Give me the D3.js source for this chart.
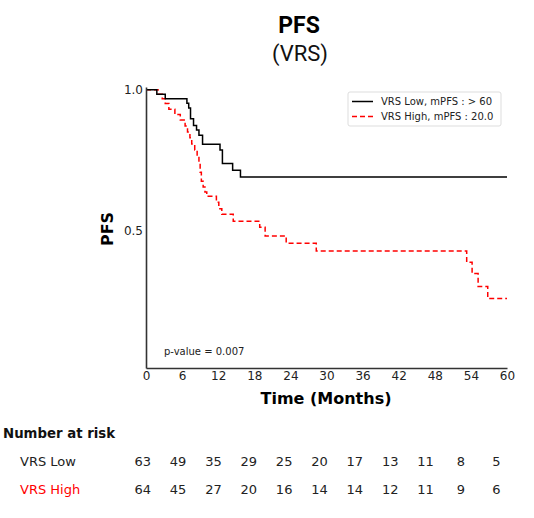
<!DOCTYPE html>
<html>
<head>
<meta charset="utf-8">
<script src="https://cdn.jsdelivr.net/npm/d3@7"></script>
<style>
  html, body { margin: 0; padding: 0; background: #fff; }
  svg { display: block; }
</style>
</head>
<body>
<div id="chart"></div>
<script>
// ---- Data ----
const lowTimes  = [0, 1.8, 3.2, 6.8, 7.1, 7.4, 7.9, 8.4, 8.8, 9.4, 12.3, 12.7, 14.4, 15.7, 60];
const lowSurv   = [1.0, 0.984, 0.968, 0.952, 0.935, 0.897, 0.873, 0.857, 0.838, 0.806, 0.786, 0.738, 0.714, 0.690, 0.690];
const highTimes = [0, 2.0, 2.7, 3.2, 3.8, 4.8, 5.7, 6.5, 6.9, 7.3, 7.6, 8.1, 8.5, 8.8, 9.0, 9.2, 9.5, 9.8, 10.1, 11.7, 12.1, 12.6, 14.5, 18.9, 19.8, 23.3, 28.3, 53.3, 54.2, 55.2, 56.8, 60];
const highSurv  = [1.0, 0.984, 0.968, 0.951, 0.931, 0.912, 0.893, 0.871, 0.850, 0.829, 0.807, 0.786, 0.764, 0.743, 0.707, 0.675, 0.654, 0.636, 0.621, 0.600, 0.577, 0.557, 0.532, 0.511, 0.480, 0.454, 0.426, 0.386, 0.346, 0.300, 0.257, 0.257];
const xTicks = [0, 6, 12, 18, 24, 30, 36, 42, 48, 54, 60];
const yTicks = [0.5, 1.0];
const riskLow  = [63, 49, 35, 29, 25, 20, 17, 13, 11, 8, 5];
const riskHigh = [64, 45, 27, 20, 16, 14, 14, 12, 11, 9, 6];
const groups = ["VRS Low", "VRS High"];
const legendLabels = ["VRS Low, mPFS : > 60", "VRS High, mPFS : 20.0"];
const pValueText = "p-value = 0.007";

// ---- Layout ----
const W = 534, H = 518;
const svg = d3.select("#chart").append("svg").attr("width", W).attr("height", H);
const x = d3.scaleLinear().domain([0, 60]).range([146, 507]);
const y = d3.scaleLinear().domain([0.01, 1.01]).range([368, 87]);
const riskX = d3.scaleLinear().domain([0, 60]).range([142.7, 496.3]);
const axisFont = "'DejaVu Sans', sans-serif";

// Title
svg.append("text").attr("x", 299).attr("y", 33).attr("text-anchor", "middle")
  .attr("font-family", "Roboto, sans-serif").attr("font-weight", "bold").attr("font-size", 23)
  .attr("fill", "#000").text("PFS");
svg.append("text").attr("x", 300).attr("y", 61).attr("text-anchor", "middle")
  .attr("font-family", "Roboto, sans-serif").attr("font-size", 22)
  .attr("fill", "#111").text("(VRS)");

// Curves
const line = d3.line().x(d => x(d[0])).y(d => y(d[1])).curve(d3.curveStepAfter);
const lowData = lowTimes.map((t, i) => [t, lowSurv[i]]);
const highData = highTimes.map((t, i) => [t, highSurv[i]]);

svg.append("path").datum(highData).attr("d", line).attr("fill", "none")
  .attr("stroke", "#ff0000").attr("stroke-width", 1.5).attr("stroke-dasharray", "5,3");
svg.append("path").datum(lowData).attr("d", line).attr("fill", "none")
  .attr("stroke", "#000").attr("stroke-width", 1.5);

// Axes
const xAxis = d3.axisBottom(x).tickValues(xTicks).tickSize(0).tickPadding(3).tickFormat(d3.format("d"));
const gx = svg.append("g").attr("transform", "translate(0,368)").call(xAxis);
gx.select(".domain").attr("stroke", "#333").attr("stroke-width", 1.6);
gx.selectAll("text").attr("font-family", axisFont).attr("font-size", 12).attr("fill", "#222");

const yAxis = d3.axisLeft(y).tickValues(yTicks).tickSize(0).tickPadding(3).tickFormat(d3.format(".1f"));
const gy = svg.append("g").attr("transform", "translate(146,0)").call(yAxis);
gy.select(".domain").attr("stroke", "#333").attr("stroke-width", 1.6);
gy.selectAll("text").attr("font-family", axisFont).attr("font-size", 12).attr("fill", "#222");

// Axis labels
svg.append("text").attr("x", 326).attr("y", 404).attr("text-anchor", "middle")
  .attr("font-family", axisFont).attr("font-weight", "bold").attr("font-size", 16)
  .attr("fill", "#000").text("Time (Months)");
svg.append("text").attr("transform", "translate(113,229) rotate(-90)").attr("text-anchor", "middle")
  .attr("font-family", axisFont).attr("font-weight", "bold").attr("font-size", 16)
  .attr("fill", "#000").text("PFS");

// p-value
svg.append("text").attr("x", 164).attr("y", 355).attr("font-family", axisFont)
  .attr("font-size", 10).attr("fill", "#222").text(pValueText);

// Legend
const lg = svg.append("g");
lg.append("rect").attr("x", 348).attr("y", 92).attr("width", 153).attr("height", 34).attr("rx", 2)
  .attr("fill", "#fff").attr("stroke", "#ddd").attr("stroke-width", 1);
const legendStyles = [{c: "#000", dash: null}, {c: "#ff0000", dash: "5,3"}];
legendLabels.forEach((lab, i) => {
  const yy = 101.5 + i * 15;
  lg.append("line").attr("x1", 352).attr("x2", 373).attr("y1", yy).attr("y2", yy)
    .attr("stroke", legendStyles[i].c).attr("stroke-width", 1.5)
    .attr("stroke-dasharray", legendStyles[i].dash);
  lg.append("text").attr("x", 381).attr("y", yy + 3.5).attr("font-family", axisFont)
    .attr("font-size", 10).attr("fill", "#222").text(lab);
});

// Number at risk
svg.append("text").attr("x", 3).attr("y", 438).attr("font-family", axisFont)
  .attr("font-weight", "bold").attr("font-size", 13.3).attr("fill", "#111").text("Number at risk");
const riskRows = [riskLow, riskHigh];
const rowColors = ["#222", "#ff0000"];
const rowY = [465.5, 493.5];
riskRows.forEach((row, r) => {
  svg.append("text").attr("x", 20).attr("y", rowY[r]).attr("font-family", axisFont)
    .attr("font-size", 13).attr("fill", rowColors[r]).text(groups[r]);
  svg.selectAll(null).data(row).enter().append("text")
    .attr("x", (d, i) => riskX(xTicks[i])).attr("y", rowY[r]).attr("text-anchor", "middle")
    .attr("font-family", axisFont).attr("font-size", 13).attr("fill", "#222")
    .text(d => d);
});
</script>
</body>
</html>
